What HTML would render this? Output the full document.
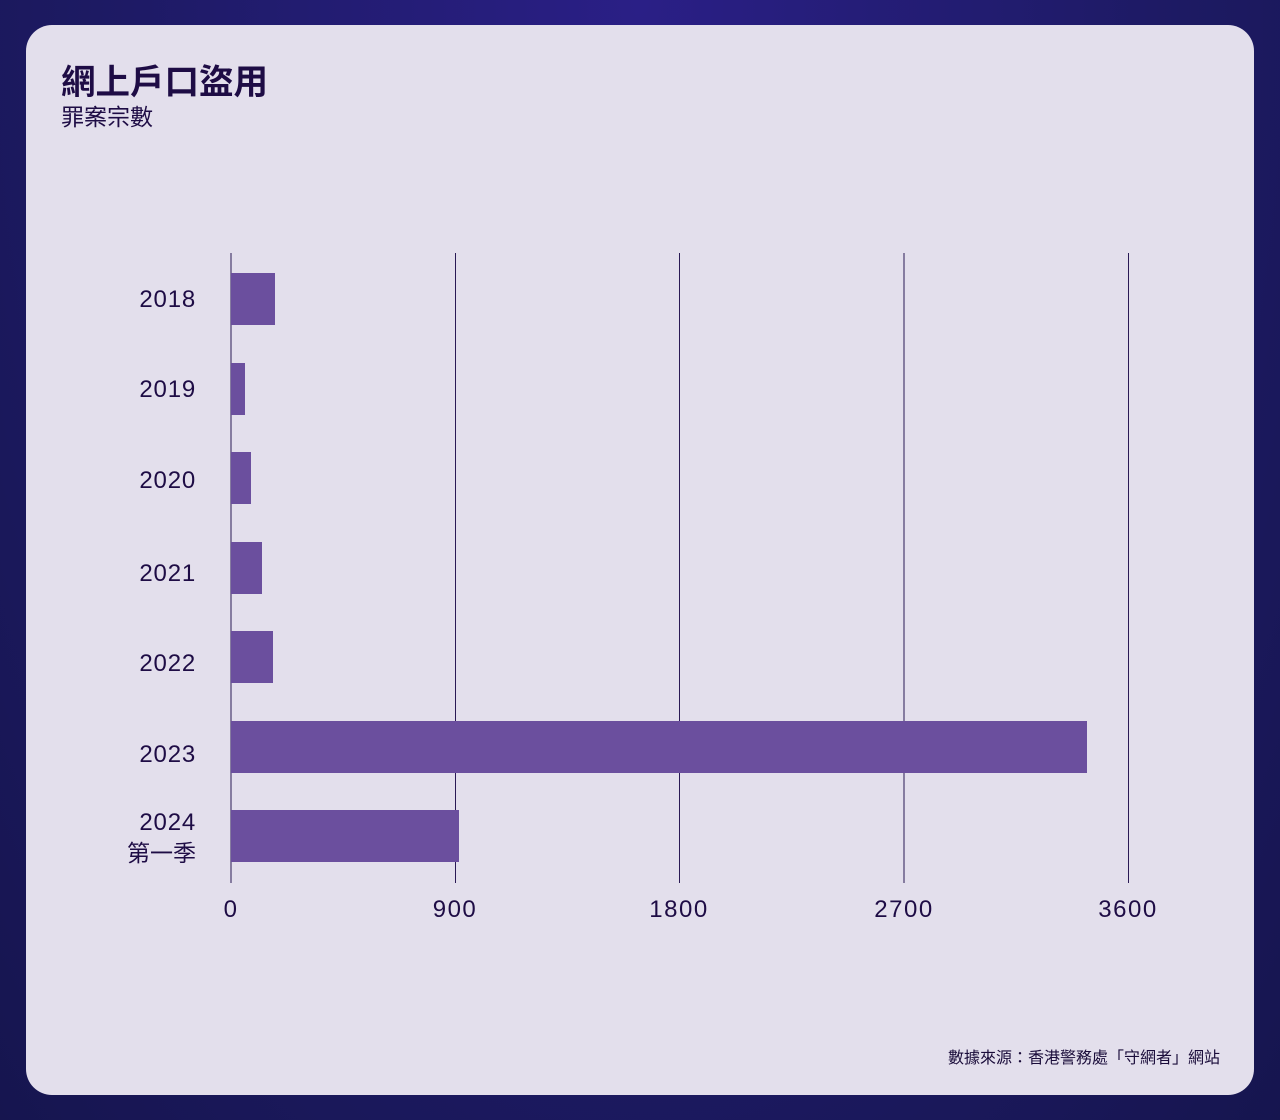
<!DOCTYPE html>
<html><head><meta charset="utf-8"><style>
html,body{margin:0;padding:0;width:1280px;height:1120px;overflow:hidden;background:radial-gradient(ellipse at 50% 0%,#2a1f86 0%,#1d1a63 60%,#16154f 100%);font-family:"Liberation Sans","Noto Sans CJK TC",sans-serif;}
.card{position:absolute;left:26px;top:25px;width:1228px;height:1070px;border-radius:26px;background:#e3dfec;}
.t{position:absolute;left:61px;top:54px;font-size:34.5px;font-weight:bold;color:#1e0c45;}
.s{position:absolute;left:61px;top:98px;font-size:23px;color:#1e0c45;}
.f{position:absolute;right:60px;top:1044px;font-size:16px;color:#1a0c3a;}
</style></head><body>
<div class="card"></div>
<div class="t">網上戶口盜用</div>
<div class="s">罪案宗數</div>
<svg width="1280" height="1120" style="position:absolute;left:0;top:0" font-family="Liberation Sans, Noto Sans CJK TC, sans-serif" fill="#1e0c45">
<g stroke="#2a1a55" stroke-width="1">
<line x1="231" y1="253" x2="231" y2="883"/>
<line x1="455.5" y1="253" x2="455.5" y2="883"/>
<line x1="679.5" y1="253" x2="679.5" y2="883"/>
<line x1="904" y1="253" x2="904" y2="883"/>
<line x1="1128.5" y1="253" x2="1128.5" y2="883"/>
</g>
<g fill="#6b4f9e">
<rect x="231" y="273" width="44" height="52"/>
<rect x="231" y="363" width="14" height="52"/>
<rect x="231" y="452" width="20" height="52"/>
<rect x="231" y="542" width="31" height="52"/>
<rect x="231" y="631" width="42" height="52"/>
<rect x="231" y="721" width="856" height="52"/>
<rect x="231" y="810" width="228" height="52"/>
</g>
<g font-size="24" text-anchor="end" letter-spacing="0.8">
<text x="196" y="307">2018</text>
<text x="196" y="397">2019</text>
<text x="196" y="488">2020</text>
<text x="196" y="581">2021</text>
<text x="196" y="671">2022</text>
<text x="196" y="762">2023</text>
<text x="196" y="830">2024</text>
<text x="196" y="861" font-size="23" letter-spacing="0">第一季</text>
</g>
<g font-size="24" text-anchor="middle" letter-spacing="1.5">
<text x="231" y="917">0</text>
<text x="455" y="917">900</text>
<text x="679" y="917">1800</text>
<text x="904" y="917">2700</text>
<text x="1128" y="917">3600</text>
</g>
</svg>
<div class="f">數據來源：香港警務處「守網者」網站</div>
</body></html>
